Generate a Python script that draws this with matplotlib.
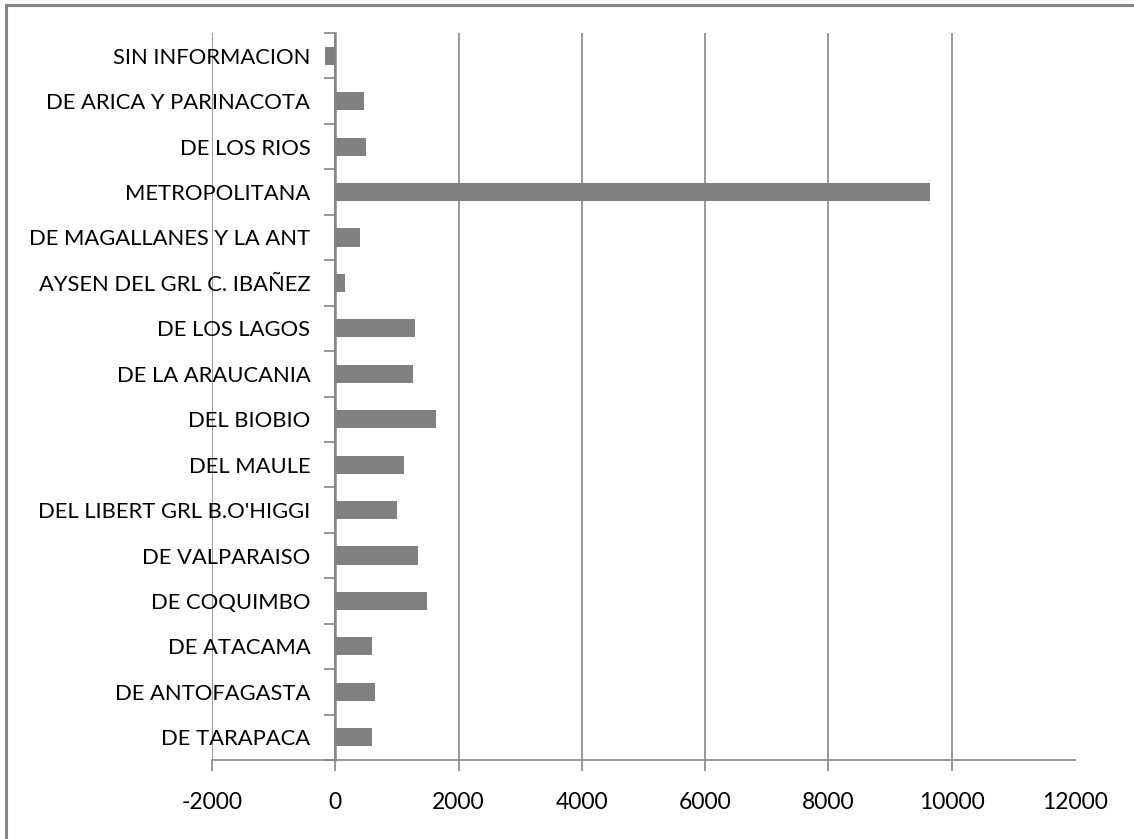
import matplotlib
matplotlib.use("Agg")
import matplotlib.pyplot as plt
from matplotlib.patches import Rectangle
from matplotlib.ticker import FixedLocator

# Regions, listed bottom to top
regions = [
    "DE TARAPACA",
    "DE ANTOFAGASTA",
    "DE ATACAMA",
    "DE COQUIMBO",
    "DE VALPARAISO",
    "DEL LIBERT GRL B.O'HIGGI",
    "DEL MAULE",
    "DEL BIOBIO",
    "DE LA ARAUCANIA",
    "DE LOS LAGOS",
    "AYSEN DEL GRL C. IBAÑEZ",
    "DE MAGALLANES Y LA ANT",
    "METROPOLITANA",
    "DE LOS RIOS",
    "DE ARICA Y PARINACOTA",
    "SIN INFORMACION",
]
values = [595, 638, 595, 1486, 1340, 995, 1108, 1632, 1254, 1287,
          152, 395, 9640, 493, 460, -170]
x_ticks = [-2000, 0, 2000, 4000, 6000, 8000, 10000, 12000]

GRAY = "#868686"
BAR = "#808080"

plt.rcParams["font.family"] = ["Lato", "DejaVu Sans"]

W, H = 1134, 839
fig = plt.figure(figsize=(W / 100, H / 100), dpi=100)
fig.patch.set_facecolor("white")

# outer chart frame
fig.patches.append(Rectangle((6 / W, -0.1), 1.2, (H - 5) / H + 0.1,
                             transform=fig.transFigure, fill=False,
                             edgecolor=GRAY, linewidth=2.2))

left, right, top, bottom = 212, 1075, 33, 760
ax = fig.add_axes([left / W, (H - bottom) / H, (right - left) / W, (bottom - top) / H])

y = list(range(len(regions)))
ax.barh(y, values, height=0.4, color=BAR, zorder=3)

ax.set_xlim(-2000, 12000)
ax.set_ylim(-0.5, len(regions) - 0.5)

ax.set_xticks(x_ticks)
ax.set_xticklabels([str(v) for v in x_ticks])
ax.xaxis.grid(True, color=GRAY, linewidth=1.2, zorder=0)
ax.set_axisbelow(True)
ax.tick_params(axis="x", length=8, width=1.2, color=GRAY, pad=15,
               labelsize=16.5, labelcolor="black")
last = ax.xaxis.get_major_ticks()[-1]
last.tick1line.set_visible(False)
last.gridline.set_visible(False)

ax.set_yticks(y)
ax.set_yticklabels(regions)
ax.yaxis.set_minor_locator(FixedLocator([i - 0.5 for i in range(len(regions) + 1)]))
ax.tick_params(axis="y", which="major", length=0, pad=18, labelsize=15.8,
               labelcolor="black")
ax.tick_params(axis="y", which="minor", length=8, width=1.2, color=GRAY)

for s in ("top", "right"):
    ax.spines[s].set_visible(False)
ax.spines["left"].set_position(("data", 0))
ax.spines["left"].set_color(GRAY)
ax.spines["left"].set_linewidth(1.8)
ax.spines["bottom"].set_color(GRAY)
ax.spines["bottom"].set_linewidth(1.2)

fig.savefig("out.png", dpi=100, facecolor="white")
